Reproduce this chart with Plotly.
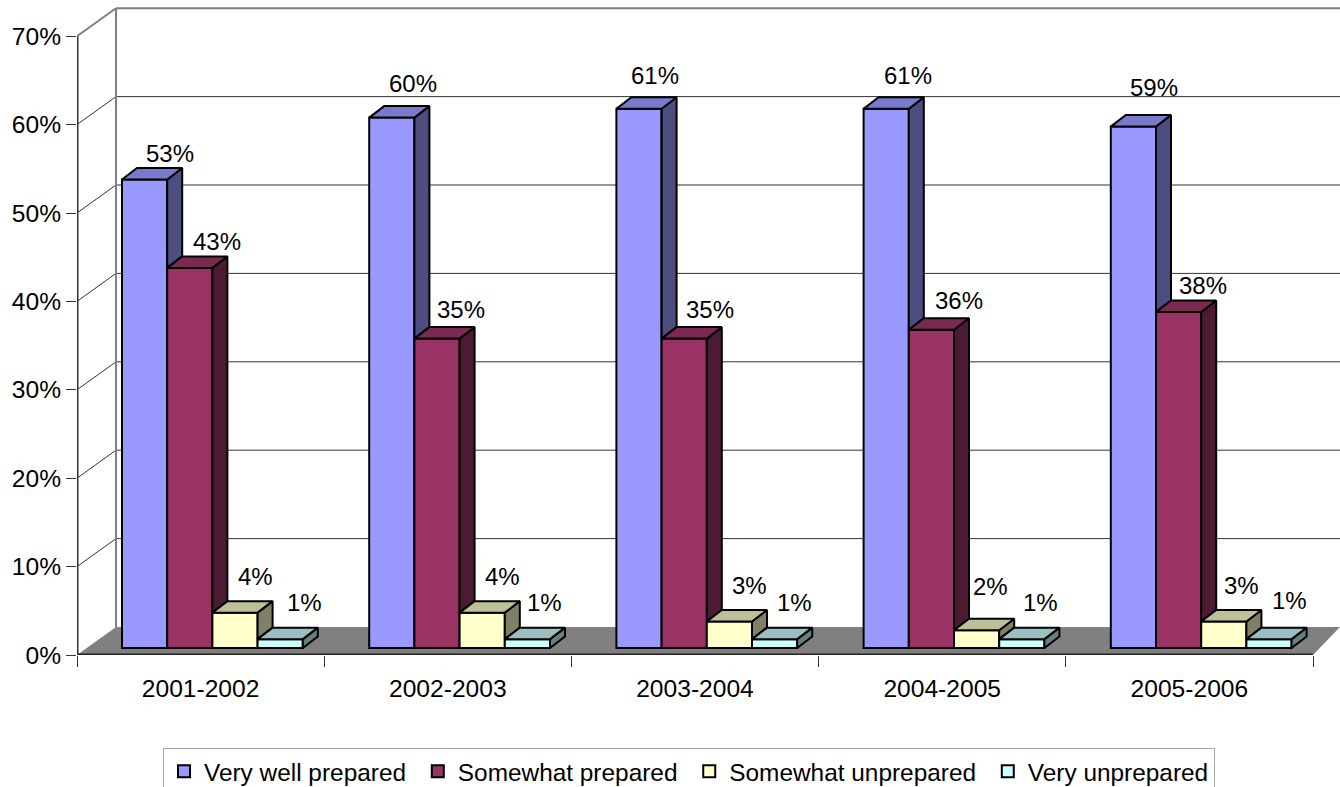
import plotly.graph_objects as go

# ---- data ----
categories = ["2001-2002", "2002-2003", "2003-2004", "2004-2005", "2005-2006"]
very_well = [53, 60, 61, 61, 59]
somewhat = [43, 35, 35, 36, 38]
somewhat_un = [4, 4, 3, 2, 3]
very_un = [1, 1, 1, 1, 1]
series_names = ["Very well prepared", "Somewhat prepared", "Somewhat unprepared", "Very unprepared"]
y_ticks = [0, 10, 20, 30, 40, 50, 60, 70]

# ---- style ----
front_colors = ["#9999FF", "#993366", "#FFFFCC", "#CCFFFF"]
top_colors = ["#7A7ACC", "#7A2952", "#BFBF99", "#99BFBF"]
side_colors = ["#4D4D80", "#4D1A33", "#808066", "#668080"]
FONT = "Liberation Sans, Arial, sans-serif"
FS = 24
AXIS_FS = 24.6
LEGEND_FS = 24.4

# label nudges (pixels from the bar's front-top centre)
label_dx = [[25, 21, 16, 22, 21], [27, 24, 26, 28, 24], [20, 20, 20, 14, 18], [24, 17, 20, 19, 20]]
label_dy = [[26, 34, 33, 33, 39], [26, 29, 29, 29, 27], [36, 36, 36, 44, 36], [37, 37, 37, 37, 39]]

# ---- geometry (pixel scale of the axes) ----
W, H = 1340, 787
M_L, M_B = 77, 132
PX_X = 247.2      # px per category
PX_Y = 8.84       # px per percentage point
x_max = (W - M_L) / PX_X
y_max = (H - M_B) / PX_Y
wall_dx, wall_dy = 39 / PX_X, 28 / PX_Y
floor_right_dx = 27 / PX_X
bar_w = 45.2 / PX_X
bar_start = 45 / PX_X
bar_dx, bar_dy = 15 / PX_X, 11.5 / PX_Y
lift = 7 / PX_Y
n_cat = len(categories)

series = [very_well, somewhat, somewhat_un, very_un]
fig = go.Figure()

# front faces: real bars (trailing no-break space widens the legend pitch)
for j, vals in enumerate(series):
    fig.add_trace(go.Bar(
        x=[i + bar_start + (j + 0.5) * bar_w for i in range(n_cat)],
        y=vals, base=lift, width=bar_w,
        name=series_names[j] + ("\u00a0" if j < 3 else ""),
        marker=dict(color=front_colors[j], line=dict(color="black", width=2)),
        hoverinfo="name+y",
    ))

# side and top faces, derived from the same values
for j, vals in enumerate(series):
    sx, sy, tx, ty = [], [], [], []
    for i, v in enumerate(vals):
        xl = i + bar_start + j * bar_w
        xr = xl + bar_w
        t = v + lift
        low = series[j + 1][i] + lift if j < 3 else lift
        sx += [xr, xr + bar_dx, xr + bar_dx, xr, xr, None]
        sy += [t, t + bar_dy, low + bar_dy, low, t, None]
        tx += [xl, xr, xr + bar_dx, xl + bar_dx, xl, None]
        ty += [t, t, t + bar_dy, t + bar_dy, t, None]
    for xs, ys, col in ((sx, sy, side_colors[j]), (tx, ty, top_colors[j])):
        fig.add_trace(go.Scatter(x=xs, y=ys, mode="lines", fill="toself", fillcolor=col,
                                 line=dict(color="black", width=2), showlegend=False,
                                 hoverinfo="skip"))

# walls, floor and gridlines
shapes = [dict(type="path", layer="below", xref="x", yref="y", fillcolor="#808080",
               line=dict(width=0),
               path=f"M0,0 L{n_cat},0 L{n_cat + floor_right_dx},{wall_dy} L{wall_dx},{wall_dy} Z")]
for t in y_ticks:
    top = t == y_ticks[-1]
    col = "#808080" if top else "#333333"
    wid = 2 if top else 1
    if t > 0:
        shapes.append(dict(type="line", layer="below", xref="x", yref="y", x0=wall_dx, x1=x_max,
                           y0=t + wall_dy, y1=t + wall_dy, line=dict(color=col, width=wid)))
        shapes.append(dict(type="line", layer="below", xref="x", yref="y", x0=0, x1=wall_dx,
                           y0=t, y1=t + wall_dy, line=dict(color=col, width=wid)))
shapes.append(dict(type="line", layer="below", xref="x", yref="y", x0=wall_dx, x1=wall_dx,
                   y0=wall_dy, y1=y_ticks[-1] + wall_dy, line=dict(color="#808080", width=2)))
shapes.append(dict(type="line", layer="above", xref="x", yref="y", x0=0, x1=0,
                   y0=0, y1=y_ticks[-1], line=dict(color="#333333", width=3)))
shapes.append(dict(type="line", layer="above", xref="x", yref="y", x0=0, x1=n_cat,
                   y0=0, y1=0, line=dict(color="#222222", width=3)))

annotations = []
for j, vals in enumerate(series):
    for i, v in enumerate(vals):
        annotations.append(dict(
            x=i + bar_start + (j + 0.5) * bar_w, y=v + lift, xref="x", yref="y",
            text=f"{v}%", showarrow=False, xanchor="center", yanchor="middle",
            xshift=label_dx[j][i], yshift=label_dy[j][i],
            font=dict(family=FONT, size=FS, color="black")))

fig.update_layout(
    width=W, height=H, margin=dict(l=M_L, r=0, t=0, b=M_B, pad=0),
    plot_bgcolor="white", paper_bgcolor="white",
    barmode="overlay", font=dict(family=FONT, size=FS, color="black"),
    shapes=shapes, annotations=annotations,
    xaxis=dict(range=[0, x_max], tickmode="array",
               tickvals=[i + 0.5 for i in range(n_cat)], ticktext=categories,
               ticks="", ticklabelstandoff=16, showgrid=False, zeroline=False, showline=False,
               tickfont=dict(family=FONT, size=AXIS_FS, color="black"),
               minor=dict(ticks="outside", tickmode="array", tickvals=list(range(n_cat + 1)),
                          ticklen=11, tickwidth=1, tickcolor="#333333", showgrid=False)),
    yaxis=dict(range=[0, y_max], tickmode="array", tickvals=y_ticks,
               ticktext=[f"{t}%" for t in y_ticks], ticks="outside", ticklen=10, tickwidth=1,
               tickcolor="#333333", showgrid=False, zeroline=False, showline=False,
               tickfont=dict(family=FONT, size=AXIS_FS, color="black")),
    legend=dict(orientation="h", x=163 / W, y=1 - 748 / H, yref="container", xref="container",
                xanchor="left", yanchor="top",
                bgcolor="white", bordercolor="#A6A6A6", borderwidth=1,
                font=dict(family=FONT, size=LEGEND_FS, color="black"), traceorder="normal"),
)

fig.write_html("out.html", config={"displayModeBar": False},
               post_script="document.body.style.margin='0';document.body.style.overflow='hidden';")
